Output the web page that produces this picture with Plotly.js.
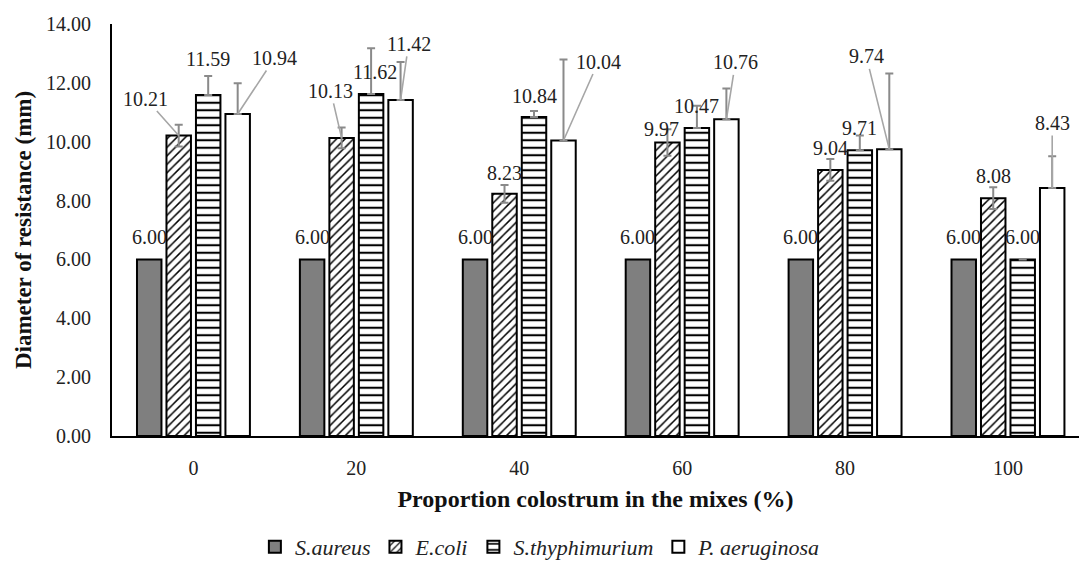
<!DOCTYPE html>
<html>
<head>
<meta charset="utf-8">
<script src="https://cdn.plot.ly/plotly-3.0.1.min.js"></script>
<style>html,body{margin:0;padding:0;background:#fff;}#chart{width:1079px;height:568px;}</style>
</head>
<body>
<div id="chart"></div>
<script>
// ---- data ----
var categories = ["0", "20", "40", "60", "80", "100"];
var seriesNames = ["S.aureus", "E.coli", "S.thyphimurium", "P. aeruginosa"];
var sAureus = [6.00, 6.00, 6.00, 6.00, 6.00, 6.00];
var eColi = [10.21, 10.13, 8.23, 9.97, 9.04, 8.08];
var sThyphimurium = [11.59, 11.62, 10.84, 10.47, 9.71, 6.00];
var pAeruginosa = [10.94, 11.42, 10.04, 10.76, 9.74, 8.43];
var eColiErr = [0.37, 0.35, 0.30, 0.45, 0.37, 0.37];
var sThyErr = [0.64, 1.56, 0.20, 0.75, 0.50, 0.00];
var pAerErr = [1.05, 1.29, 2.75, 1.05, 2.58, 1.08];
var yTicks = ["0.00", "2.00", "4.00", "6.00", "8.00", "10.00", "12.00", "14.00"];

// ---- label placement (pixel offsets of text from bar top; leader line flag) ----
var labelOffsets = [
  [[0,-22,0],[0,-22,0],[0,-22,0],[0,-22,0],[0,-22,0],[0,-22,0]],
  [[-33,-37,1],[-11,-47,1],[0,-21,0],[-6,-14,0],[0,-22,0],[0,-22,0]],
  [[0,-36,0],[4,-22,0],[0,-21,0],[0,-22,0],[0,-22,0],[0,-22,0]],
  [[37,-56,1],[8,-56,1],[35,-79,1],[9,-57,1],[-23,-93,1],[0,-65,1]]
];

var serif = "Times New Roman, Liberation Serif, serif";
var outline = {color: "#000", width: 2};
var errStyle = {color: "#8a8a8a", thickness: 2, width: 4};

var traces = [
  {type: "bar", name: seriesNames[0], x: categories, y: sAureus,
   marker: {color: "#7f7f7f", line: outline}},
  {type: "bar", name: seriesNames[1], x: categories, y: eColi,
   marker: {color: "#fff", line: outline, pattern: {shape: "/", fgcolor: "#000", bgcolor: "#fff", size: 6, solidity: 0.25}},
   error_y: Object.assign({type: "data", array: eColiErr, symmetric: true, visible: true}, errStyle)},
  {type: "bar", name: seriesNames[2], x: categories, y: sThyphimurium,
   marker: {color: "#fff", line: outline, pattern: {shape: "-", fgcolor: "#000", bgcolor: "#fff", size: 7.5, solidity: 0.28}},
   error_y: Object.assign({type: "data", array: sThyErr, arrayminus: sThyErr.map(function(){return 0;}), symmetric: false, visible: true}, errStyle)},
  {type: "bar", name: seriesNames[3], x: categories, y: pAeruginosa,
   marker: {color: "#fff", line: outline},
   error_y: Object.assign({type: "data", array: pAerErr, arrayminus: pAerErr.map(function(){return 0;}), symmetric: false, visible: true}, errStyle)}
];

var allSeries = [sAureus, eColi, sThyphimurium, pAeruginosa];
var bargap = 0.276;
var xRange = [-0.5, 5.436];
var plotW = 1079 - 112 - 0;
var pxPerCat = plotW / (xRange[1] - xRange[0]);
var barStep = (1 - bargap) / 4 * pxPerCat;

var annotations = [];
allSeries.forEach(function(vals, s) {
  vals.forEach(function(v, i) {
    var o = labelOffsets[s][i];
    var a = {
      x: i, y: v, xref: "x", yref: "y",
      xshift: (s - 1.5) * barStep,
      text: v.toFixed(2),
      font: {family: serif, size: 20, color: "#222"}
    };
    if (o[2]) {
      a.showarrow = true; a.arrowhead = 0; a.arrowwidth = 1.6; a.arrowcolor = "#a6a6a6";
      a.ax = o[0]; a.ay = o[1]; a.standoff = 0;
    } else {
      a.showarrow = false; a.yshift = -o[1]; a.xshift += o[0];
    }
    annotations.push(a);
  });
});

var layout = {
  width: 1079, height: 568,
  margin: {l: 112, r: 0, t: 24, b: 131},
  paper_bgcolor: "#fff", plot_bgcolor: "#fff",
  barmode: "group", bargap: bargap, bargroupgap: 0.17,
  showlegend: true,
  legend: {orientation: "h", x: 0.443, xanchor: "center", y: -0.27, yanchor: "middle",
           font: {family: serif, size: 22, color: "#222", style: "italic"}, itemwidth: 30, traceorder: "normal"},
  xaxis: {type: "category", range: xRange, showline: true, linecolor: "#000", linewidth: 2,
          ticks: "outside", ticklen: 13, tickcolor: "rgba(0,0,0,0)", showgrid: false, zeroline: false,
          tickfont: {family: serif, size: 20, color: "#222"},
          title: {text: "<b>Proportion colostrum in the mixes (%)</b>", font: {family: serif, size: 24, color: "#111"}, standoff: 12}},
  yaxis: {range: [0, 14], tickvals: yTicks.map(Number), ticktext: yTicks, showline: true, linecolor: "#000", linewidth: 2,
          ticks: "outside", ticklen: 15, tickcolor: "rgba(0,0,0,0)", showgrid: false, zeroline: false,
          tickfont: {family: serif, size: 20, color: "#222"},
          title: {text: "<b>Diameter of resistance (mm)</b>", font: {family: serif, size: 23, color: "#111"}, standoff: 8}},
  annotations: annotations
};

Plotly.newPlot("chart", traces, layout, {displayModeBar: false, staticPlot: true});
</script>
</body>
</html>
